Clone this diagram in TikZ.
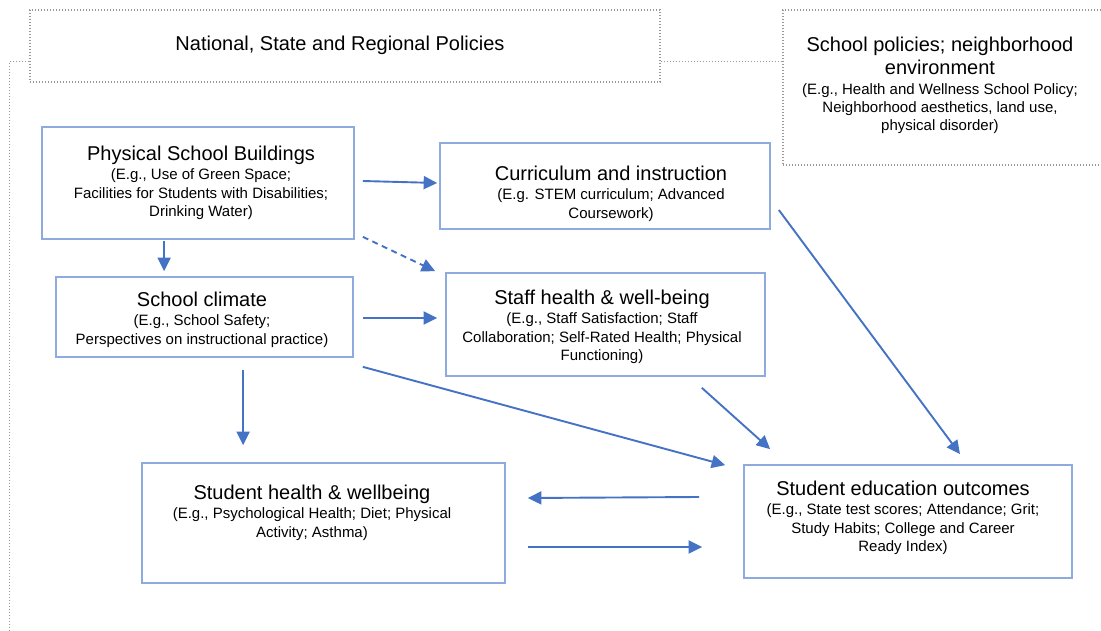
\documentclass[tikz,border=0pt]{standalone}
\usepackage{fontspec}
\setmainfont{Liberation Sans}
\usetikzlibrary{arrows.meta,calc,fit}

\definecolor{boxblue}{HTML}{8FAADC}
\definecolor{arrowblue}{HTML}{4472C4}
\definecolor{dotgray}{HTML}{999999}

\newcommand\headline{\fontsize{20}{18.7}\selectfont}

\tikzset{
  frame/.style={draw=dotgray, line width=1.3pt, dash pattern=on 1.4pt off 1.6pt},
  framebox/.style={frame, inner sep=0pt},
  box/.style={draw=boxblue, line width=1.7pt, inner sep=0pt},
  boxtext/.style={align=center, inner sep=0pt, anchor=north,
    font=\fontsize{15}{18.7}\selectfont},
  link/.style={draw=arrowblue, line width=1.9pt,
    -{Triangle[length=13.5pt,width=13pt]}},
  dashedlink/.style={link, dash pattern=on 6pt off 4.5pt},
}

\begin{document}
\begin{tikzpicture}[x=1pt,y=-1pt]
\useasboundingbox (0,0) rectangle (1101,631);
\begin{scope}
\clip (0,0) rectangle (1101,631);

% policy context frames (dotted)
\node[framebox, fit={(30,10) (660,82)}] (natl) {};
\node[framebox, fit={(783,10) (1130,165)}] (schpol) {};
\coordinate (natlL) at ($(natl.south west)+(0,-21)$);
\coordinate (natlR) at ($(natl.south east)+(0,-21)$);
\draw[frame] (natlL) -- ++(-20,0) -- ++(0,600);
\draw[frame] (natlR) -- (natlR -| schpol.west);

\node[boxtext] (natlT) at (340,36) {{\headline National, State and Regional Policies}};
\node[boxtext, font=\fontsize{15}{18}\selectfont] (schpolT) at (940,37)
  {{\headline School policies; neighborhood}\\[3pt]
   {\headline environment}\\[2pt]
   (E.g., Health and Wellness School Policy;\\
   Neighborhood aesthetics, land use,\\
   physical disorder)};

% framework boxes
\node[box, fit={(42,127) (354,239)}] (psb) {};
\node[box, fit={(56,277) (353,357)}] (climate) {};
\node[box, fit={(440,143) (770,229)}] (curr) {};
\node[box, fit={(446,273) (765,376)}] (staff) {};
\node[box, fit={(142,463) (505,583)}] (sh) {};
\node[box, fit={(744,465) (1072,578)}] (se) {};

\node[boxtext] (psbT) at (201,146)
  {{\headline Physical School Buildings}\\
   (E.g., Use of Green Space;\\
   Facilities for Students with Disabilities;\\
   Drinking Water)};
\node[boxtext] (climateT) at (202,292)
  {{\headline School climate}\\
   (E.g., School Safety;\\
   Perspectives on instructional practice)};
\node[boxtext] (currT) at (611,166)
  {{\headline Curriculum and instruction}\\
   (E.g. STEM curriculum; Advanced\\
   Coursework)};
\node[boxtext] (staffT) at (602,290)
  {{\headline Staff health \& well-being}\\
   (E.g., Staff Satisfaction; Staff\\
   Collaboration; Self-Rated Health; Physical\\
   Functioning)};
\node[boxtext] (shT) at (312,485)
  {{\headline Student health \& wellbeing}\\
   (E.g., Psychological Health; Diet; Physical\\
   Activity; Asthma)};
\node[boxtext] (seT) at (903,481)
  {{\headline Student education outcomes}\\
   (E.g., State test scores; Attendance; Grit;\\
   Study Habits; College and Career\\
   Ready Index)};

% pathways
\draw[link] ($(psb.east)+(8,-2)$) -- ($(curr.west)+(-2,-3)$);
\draw[dashedlink] ($(psb.south east)+(8,-3)$) -- ($(staff.north west)+(-10,-1)$);
\draw[link] ($(psb.south west)+(123,1)$) -- ($(climate.north west)+(109,-5)$);
\draw[link] ($(climate.east)+(9,1)$) -- ($(staff.west)+(-8,-6.5)$);
\draw[link] ($(climate.south west)+(188,12)$) -- ($(sh.north west)+(102,-17)$);
\draw[link] ($(climate.south east)+(9,9)$) -- ($(se.north west)+(-18,1)$);
\draw[link] ($(staff.south east)+(-64,11)$) -- ($(se.north west)+(27,-15)$);
\draw[link] ($(curr.east)+(8,24)$) -- ($(se.north)+(52,-10)$);
\draw[link] ($(se.west)+(-44,-24.5)$) -- ($(sh.east)+(22,-25)$);
\draw[link] ($(sh.east)+(22,24)$) -- ($(se.west)+(-41,25.5)$);
\end{scope}
\end{tikzpicture}
\end{document}
